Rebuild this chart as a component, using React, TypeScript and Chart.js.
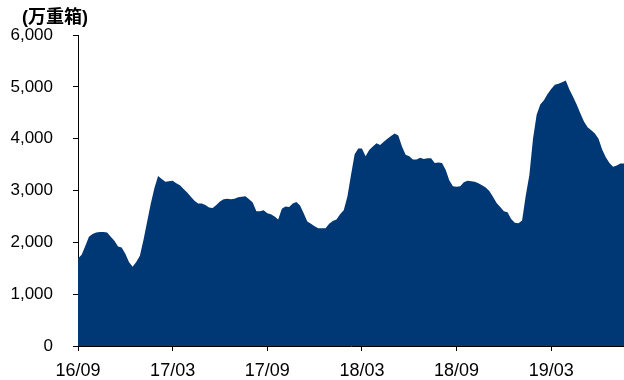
import React, { useEffect, useRef } from "react";
import { Chart, registerables } from "chart.js";

Chart.register(...registerables);

const unitLabel = "(万重箱)";
const tickWeeks = [0, 26, 52, 78, 104, 130];
const tickLabels = ["16/09", "17/03", "17/09", "18/03", "18/09", "19/03"];
const yTicks = [0, 1000, 2000, 3000, 4000, 5000, 6000];

const values = [
  1690, 1760, 1930, 2110, 2160, 2190, 2200, 2200, 2190, 2110,
  2030, 1920, 1900, 1780, 1620, 1530, 1620, 1740, 2050, 2400,
  2750, 3050, 3280, 3220, 3170, 3180, 3190, 3140, 3100, 3030,
  2960, 2880, 2800, 2750, 2750, 2720, 2670, 2660, 2720, 2790,
  2830, 2840, 2830, 2840, 2870, 2880, 2890, 2830, 2770, 2600,
  2600, 2620, 2560, 2540, 2500, 2440, 2650, 2690, 2680, 2750,
  2780, 2710, 2560, 2400, 2360, 2310, 2270, 2270, 2270, 2360,
  2410, 2440, 2540, 2620, 2880, 3300, 3700, 3810, 3810, 3660,
  3780, 3850, 3910, 3880, 3940, 4000, 4050, 4100, 4060, 3850,
  3690, 3660, 3600, 3600, 3630, 3610, 3620, 3620, 3530, 3540,
  3530, 3400, 3200, 3080, 3070, 3080, 3160, 3190, 3180, 3170,
  3140, 3100, 3060, 2990, 2880, 2760, 2680, 2600, 2580, 2450,
  2380, 2370, 2420, 2900, 3300, 4000, 4460, 4660, 4740, 4860,
  4960, 5040, 5060, 5090, 5120, 4950, 4810, 4660, 4490, 4330,
  4220, 4160, 4100, 4000, 3790, 3640, 3530, 3460, 3480, 3520,
  3520,
];

const FILL = "#003876";
const AXIS = "#000000";
const FONT = "Arial, 'Liberation Sans', sans-serif";

export default function App() {
  const ref = useRef<HTMLCanvasElement | null>(null);

  useEffect(() => {
    if (!ref.current) return;
    const points = values.map((v, i) => ({ x: i, y: v }));
    const unitPlugin = {
      id: "unitLabel",
      afterDraw(chart: any) {
        const ctx = chart.ctx;
        ctx.save();
        ctx.fillStyle = "#000";
        ctx.font = `bold 18px Arial, 'Noto Sans CJK SC', sans-serif`;
        ctx.textBaseline = "middle";
        ctx.textAlign = "left";
        ctx.fillText(unitLabel, 22, 18);
        ctx.restore();
      },
    };
    const chart = new Chart(ref.current, {
      type: "line",
      data: {
        datasets: [
          {
            data: points,
            backgroundColor: FILL,
            borderColor: FILL,
            borderWidth: 0,
            pointRadius: 0,
            fill: "origin",
            tension: 0,
          },
        ],
      },
      options: {
        responsive: false,
        animation: false,
        devicePixelRatio: 1,
        layout: { padding: { top: 35, right: 0, left: 0, bottom: 0 } },
        plugins: {
          legend: { display: false },
          tooltip: { enabled: false },
        },
        scales: {
          x: {
            type: "linear",
            min: 0,
            max: values.length - 1,
            afterBuildTicks: (scale: any) => {
              scale.ticks = tickWeeks.map((v) => ({ value: v }));
            },
            afterFit: (scale: any) => {
              scale.height = 34;
            },
            ticks: {
              autoSkip: false,
              maxRotation: 0,
              padding: 9,
              color: "#000",
              font: { family: FONT, size: 18 },
              callback: (v: any) => {
                const idx = tickWeeks.indexOf(Number(v));
                return idx >= 0 ? tickLabels[idx] : "";
              },
            },
            grid: {
              display: true,
              drawOnChartArea: false,
              drawTicks: true,
              tickLength: 5,
              color: AXIS,
            },
            border: { display: true, color: AXIS, width: 1 },
          },
          y: {
            type: "linear",
            min: 0,
            max: 6000,
            afterBuildTicks: (scale: any) => {
              scale.ticks = yTicks.map((v) => ({ value: v }));
            },
            afterFit: (scale: any) => {
              scale.width = 78;
            },
            ticks: {
              padding: 20,
              color: "#000",
              font: { family: FONT, size: 17 },
              callback: (v: any) => Number(v).toLocaleString("en-US"),
            },
            grid: {
              display: true,
              drawOnChartArea: false,
              drawTicks: true,
              tickLength: 5,
              color: AXIS,
            },
            border: { display: true, color: AXIS, width: 1 },
          },
        },
      },
      plugins: [unitPlugin],
    });
    return () => chart.destroy();
  }, []);

  return (
    <div style={{ position: "absolute", left: 0, top: 0, width: 624, height: 380, background: "#fff" }}>
      <canvas ref={ref} width={624} height={380} style={{ width: 624, height: 380, display: "block" }} />
    </div>
  );
}
